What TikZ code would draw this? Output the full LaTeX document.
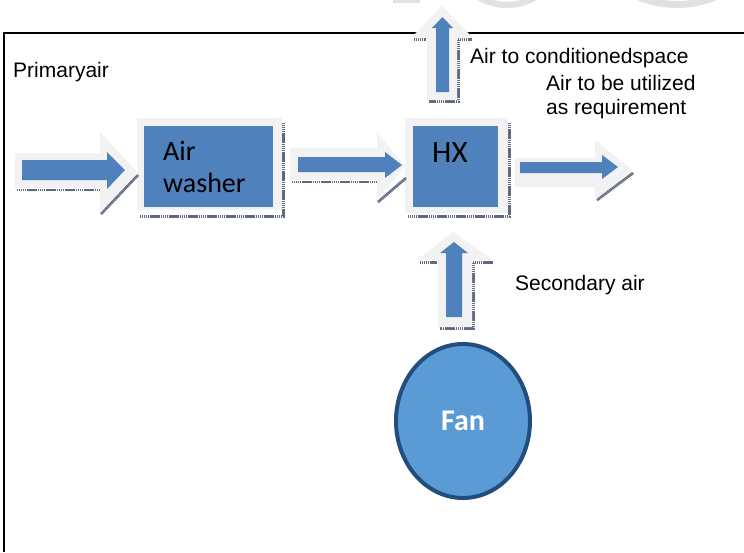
\documentclass[tikz,border=0pt]{standalone}
\usepackage{fontspec}
\setmainfont{Liberation Sans}
\newfontfamily\calib{Carlito}
\usetikzlibrary{shapes.geometric}
\definecolor{boxblue}{RGB}{79,129,189}
\definecolor{glowgray}{RGB}{242,242,242}
\definecolor{shadowc}{RGB}{95,105,128}
\definecolor{fanfill}{RGB}{91,155,213}
\definecolor{fanline}{RGB}{34,78,125}
\definecolor{wmgray}{RGB}{225,225,225}
\begin{document}
\begin{tikzpicture}[x=1pt,y=-1pt,
  frame/.style={line width=2pt, draw=black},
  glow/.style={fill=glowgray},
  bluefill/.style={fill=boxblue},
  shadowline/.style={draw=shadowc, line width=2.8pt, dash pattern=on 1.4pt off 0.5pt},
  lbl/.style={font=\fontsize{21}{25}\selectfont, inner sep=0pt, anchor=base west, align=left},
  boxlbl/.style={font=\calib\fontsize{28}{32}\selectfont, inner sep=0pt, anchor=base west, align=left},
  bluebox/.style={bluefill, inner sep=0pt, anchor=north west},
  fanstyle/.style={ellipse, fill=fanfill, draw=fanline, line width=4pt, inner sep=0pt,
    minimum width=134pt, minimum height=154pt, text=white,
    font=\calib\bfseries\fontsize{30}{31}\selectfont}]
\useasboundingbox (0,0) rectangle (744,552);
\fill[white] (0,0) rectangle (744,552);
% faint watermark pieces
\begin{scope}
\clip (0,0) rectangle (744,552);
\fill[wmgray, even odd rule] (507,-52.25) circle (60.25) (507,-52.25) circle (54);
\fill[wmgray, even odd rule] (677,-96) circle (104) (677,-96) circle (97);
\fill[wmgray] (393,0) rectangle (420,2.5);
\end{scope}
% frame
\draw[frame] (744,33) -- (4,33) -- (4,552);
% labels
\node[lbl] (primary) at (13,77) {Primaryair};
\node[lbl] (toCond) at (470,63) {Air to conditionedspace};
\node[lbl] (utilized) at (546,90) {Air to be utilized};
\node[lbl] (requirement) at (546,114) {as requirement};
\node[lbl] (secondary) at (515,290) {Secondary air};
% air washer box
\draw[shadowline] (140,216.5) -- (283.5,216.5) -- (283.5,123);
\fill[glow] (137,118) rectangle (282,210);
\node[bluebox, minimum width=129pt, minimum height=81pt] (aw) at (144,126) {};
\node[boxlbl] (awtext) at (163,192) {Air\\washer};
% HX box
\draw[shadowline] (408,216.5) -- (509.5,216.5) -- (509.5,123);
\fill[glow] (405,118) rectangle (508,213);
\node[bluebox, minimum width=85pt, minimum height=81pt] (hx) at (413,126) {};
\node[font=\calib\fontsize{31}{34}\selectfont, inner sep=0pt, anchor=base west] (hxtext) at (432,162) {HX};
% arrow 1 (primary air in)
\draw[shadowline] (17,190) -- (100,190);
\draw[shadowline] (101,214) -- (138,175);
\fill[glow] (15,153) -- (100,153) -- (100,132) -- (137,172) -- (100,213) -- (100,188) -- (15,188) -- cycle;
\fill[bluefill] (22,160) -- (107,160) -- (107,152) -- (125,170) -- (107,189) -- (107,180) -- (22,180) -- cycle;
% arrow 2 (washer to HX)
\draw[shadowline] (292,182) -- (377,182);
\draw[shadowline] (378,202) -- (406,178);
\fill[glow] (290,148) -- (377,148) -- (377,133) -- (405,166) -- (377,200) -- (377,180) -- (290,180) -- cycle;
\fill[bluefill] (298,157) -- (385,157) -- (385,152) -- (402,165) -- (385,178) -- (385,172) -- (298,172) -- cycle;
% arrow 3 (HX out right)
\draw[shadowline] (517,185.5) -- (595,185.5);
\draw[shadowline] (597,200) -- (633,173);
\fill[glow] (515,158) -- (595,158) -- (595,140) -- (632,170) -- (595,200) -- (595,187) -- (515,187) -- cycle;
\fill[bluefill] (520,162) -- (602,162) -- (602,155) -- (618,167) -- (602,179) -- (602,173) -- (520,173) -- cycle;
% arrow 4 (up to conditioned space)
\draw[shadowline] (414,39.5) -- (426,39.5);
\draw[shadowline] (458,39.5) -- (472,39.5);
\draw[shadowline] (458.5,40) -- (458.5,101.5) -- (429,101.5);
\fill[glow] (427,100) -- (427,37) -- (412,37) -- (442,6) -- (472,37) -- (457,37) -- (457,100) -- cycle;
\fill[bluefill] (436,92) -- (436,28) -- (432,28) -- (442.5,17) -- (453,28) -- (449,28) -- (449,92) -- cycle;
% arrow 5 (secondary air up)
\draw[shadowline] (420,262.5) -- (437,262.5);
\draw[shadowline] (473,262.5) -- (493,262.5);
\draw[shadowline] (473.5,263) -- (473.5,328.5) -- (440,328.5);
\fill[glow] (438,327) -- (438,260) -- (417,260) -- (453,232) -- (493,260) -- (472,260) -- (472,327) -- cycle;
\fill[bluefill] (446,317) -- (446,253) -- (440,253) -- (454,242) -- (468,253) -- (462,253) -- (462,317) -- cycle;
% fan
\node[fanstyle] (fan) at (463,421) {Fan};
\end{tikzpicture}
\end{document}
